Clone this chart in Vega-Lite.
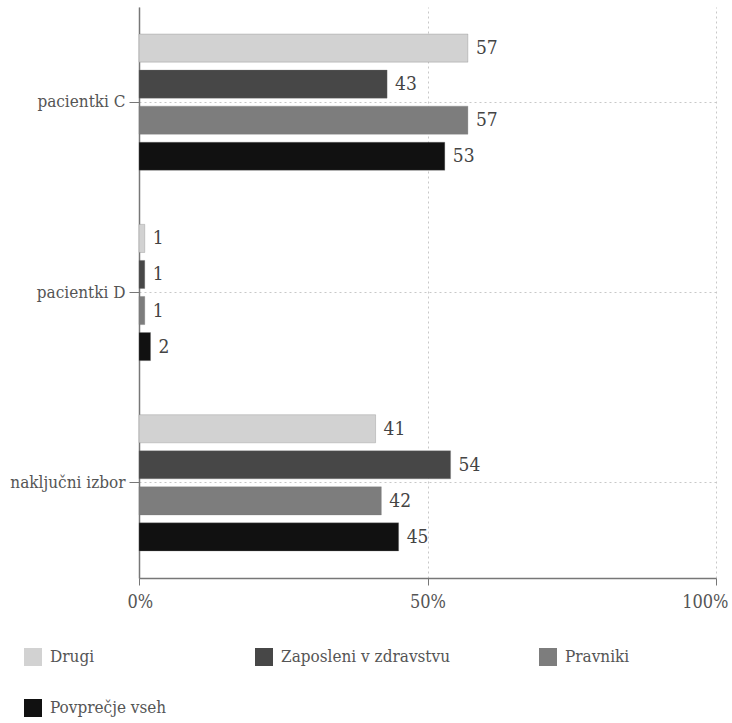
{
  "$schema": "https://vega.github.io/schema/vega-lite/v6.json",
  "autosize": "none",
  "width": 577,
  "height": 571,
  "padding": {"left": 139, "top": 7, "right": 16, "bottom": 145},
  "background": "white",
  "config": {
    "font": "DejaVu Serif Condensed, DejaVu Serif",
    "view": {"stroke": null},
    "axis": {"labelFont": "DejaVu Serif Condensed, DejaVu Serif", "labelFontSize": 17, "labelColor": "#555555", "domainColor": "#777777", "tickColor": "#777777", "gridColor": "#c8c8c8", "gridDash": [2, 3], "gridWidth": 1},
    "legend": {"labelFont": "DejaVu Serif Condensed, DejaVu Serif", "labelFontSize": 17, "labelColor": "#555555", "labelLimit": 400},
    "text": {"font": "DejaVu Serif Condensed, DejaVu Serif"}
  },
  "data": {
    "values": [
      {"category": "pacientki C", "group": "Drugi", "value": 57},
      {"category": "pacientki C", "group": "Zaposleni v zdravstvu", "value": 43},
      {"category": "pacientki C", "group": "Pravniki", "value": 57},
      {"category": "pacientki C", "group": "Povprečje vseh", "value": 53},
      {"category": "pacientki D", "group": "Drugi", "value": 1},
      {"category": "pacientki D", "group": "Zaposleni v zdravstvu", "value": 1},
      {"category": "pacientki D", "group": "Pravniki", "value": 1},
      {"category": "pacientki D", "group": "Povprečje vseh", "value": 2},
      {"category": "naključni izbor", "group": "Drugi", "value": 41},
      {"category": "naključni izbor", "group": "Zaposleni v zdravstvu", "value": 54},
      {"category": "naključni izbor", "group": "Pravniki", "value": 42},
      {"category": "naključni izbor", "group": "Povprečje vseh", "value": 45}
    ]
  },
  "encoding": {
    "y": {
      "field": "category", "type": "nominal",
      "sort": ["pacientki C", "pacientki D", "naključni izbor"],
      "scale": {"paddingInner": 0, "paddingOuter": 0},
      "axis": {"title": null, "grid": true, "bandPosition": 0.5, "tickSize": 10, "labelPadding": 4, "domainWidth": 1.5}
    },
    "yOffset": {
      "field": "group", "type": "nominal",
      "sort": ["Drugi", "Zaposleni v zdravstvu", "Pravniki", "Povprečje vseh"],
      "scale": {"paddingInner": 0.22, "paddingOuter": 0.75}
    },
    "x": {
      "field": "value", "type": "quantitative",
      "scale": {"domain": [0, 100], "nice": false},
      "axis": {"title": null, "values": [0, 50, 100], "labelExpr": "datum.value + '%'", "labelFontSize": 18, "labelFlush": true, "labelFlushOffset": 12, "tickSize": 7, "labelPadding": 8, "grid": true, "domainWidth": 1.5}
    }
  },
  "layer": [
    {
      "mark": {"type": "bar", "stroke": "#777777", "strokeWidth": 0.5, "strokeOpacity": 0.6},
      "encoding": {
        "color": {
          "field": "group", "type": "nominal",
          "scale": {"domain": ["Drugi", "Zaposleni v zdravstvu", "Pravniki", "Povprečje vseh"], "range": ["#d2d2d2", "#474747", "#7d7d7d", "#111111"]},
          "legend": {
            "title": null, "orient": "none", "legendX": -115, "legendY": 641,
            "direction": "horizontal", "columns": 3, "columnPadding": 88, "rowPadding": 33,
            "symbolType": "square", "symbolSize": 324, "symbolStrokeWidth": 0, "labelOffset": 8
          }
        }
      }
    },
    {
      "mark": {"type": "text", "align": "left", "baseline": "middle", "dx": 8, "fontSize": 19, "color": "#444444", "font": "DejaVu Serif Condensed, DejaVu Serif"},
      "encoding": {"text": {"field": "value", "type": "quantitative"}}
    }
  ]
}
